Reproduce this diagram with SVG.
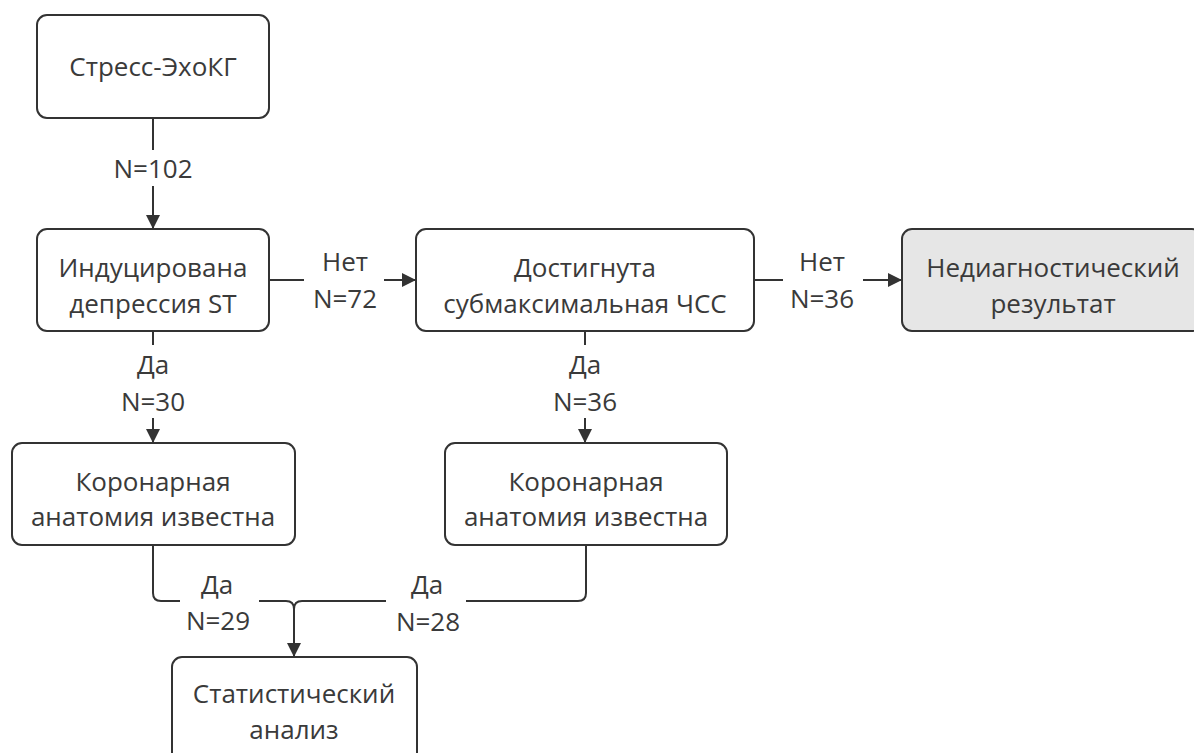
<svg xmlns="http://www.w3.org/2000/svg" width="1194" height="753" viewBox="0 0 1194 753">
<defs>
<marker id="arr" viewBox="0 0 14 14" refX="14" refY="7" markerWidth="14" markerHeight="14" markerUnits="userSpaceOnUse" orient="auto">
<path d="M0,0 L14,7 L0,14 Z" fill="#333"/>
</marker>
</defs>
<style>
.box{fill:#fff;stroke:#333;stroke-width:2}
.grey{fill:#e6e6e6}
text{font-family:"Open Sans","Noto Sans","DejaVu Sans",sans-serif;font-size:26px;fill:#3a3a3a;text-anchor:middle}
.ln{fill:none;stroke:#333;stroke-width:2}
</style>
<rect width="1194" height="753" fill="#fff"/>
<g id="connectors">
<line class="ln" x1="153" y1="118" x2="153" y2="150"/>
<line class="ln" x1="153" y1="186" x2="153" y2="229" marker-end="url(#arr)"/>
<line class="ln" x1="269" y1="280" x2="304" y2="280"/>
<line class="ln" x1="384" y1="280" x2="416" y2="280" marker-end="url(#arr)"/>
<line class="ln" x1="754" y1="280" x2="783" y2="280"/>
<line class="ln" x1="863" y1="280" x2="902" y2="280" marker-end="url(#arr)"/>
<line class="ln" x1="153" y1="331" x2="153" y2="345"/>
<line class="ln" x1="153" y1="418" x2="153" y2="443" marker-end="url(#arr)"/>
<line class="ln" x1="585" y1="331" x2="585" y2="345"/>
<line class="ln" x1="585" y1="418" x2="585" y2="443" marker-end="url(#arr)"/>
<path class="ln" d="M153,545 V593 Q153,601 161,601 H180"/>
<path class="ln" d="M259,601 H286 Q294,601 294,609"/>
<path class="ln" d="M586,545 V593 Q586,601 578,601 H466"/>
<path class="ln" d="M386,601 H302 Q294,601 294,609"/>
<line class="ln" x1="294" y1="608" x2="294" y2="657" marker-end="url(#arr)"/>
<text x="153" y="178">N=102</text>
<text x="345" y="271">Нет</text>
<text x="345" y="308">N=72</text>
<text x="822" y="271">Нет</text>
<text x="822" y="308">N=36</text>
<text x="153" y="374">Да</text>
<text x="153" y="411">N=30</text>
<text x="585" y="374">Да</text>
<text x="585" y="411">N=36</text>
<text x="217" y="594">Да</text>
<text x="218" y="630">N=29</text>
<text x="427" y="594">Да</text>
<text x="428" y="631">N=28</text>
</g>
<g id="n1">
<rect class="box" x="37" y="15" width="232" height="103" rx="10"/>
<text x="153" y="76">Стресс-ЭхоКГ</text>
</g>
<g id="n2">
<rect class="box" x="37" y="229" width="232" height="102" rx="10"/>
<text x="153" y="277">Индуцирована</text>
<text x="153" y="313">депрессия ST</text>
</g>
<g id="n3">
<rect class="box" x="416" y="229" width="338" height="102" rx="10"/>
<text x="585" y="277">Достигнута</text>
<text x="585" y="313">субмаксимальная ЧСС</text>
</g>
<g id="n4">
<rect class="box grey" x="902" y="229" width="300" height="102" rx="10"/>
<text x="1053" y="277">Недиагностический</text>
<text x="1053" y="313">результат</text>
</g>
<g id="n5">
<rect class="box" x="12" y="443" width="283" height="102" rx="10"/>
<text x="153" y="491">Коронарная</text>
<text x="153" y="526">анатомия известна</text>
</g>
<g id="n6">
<rect class="box" x="445" y="443" width="282" height="102" rx="10"/>
<text x="586" y="491">Коронарная</text>
<text x="586" y="526">анатомия известна</text>
</g>
<g id="n7">
<rect class="box" x="172" y="657" width="245" height="110" rx="10"/>
<text x="294" y="703">Статистический</text>
<text x="294" y="739">анализ</text>
</g>
</svg>
